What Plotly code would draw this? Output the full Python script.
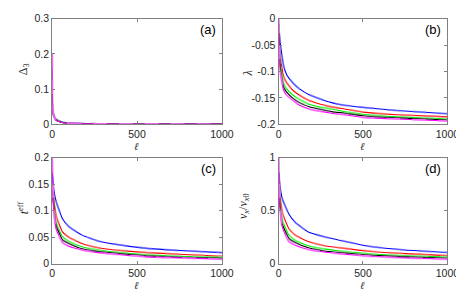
import plotly.graph_objects as go

# ---------------- data ----------------
series_names = ["blue", "red", "green", "black", "magenta"]
line_colors = ["#0000ff", "#ff0000", "#00ee00", "#000000", "#ff00ff"]
light_colors = ["rgba(120,120,255,0.7)", "rgba(255,120,120,0.7)", "rgba(120,255,120,0.7)",
                "rgba(110,110,110,0.5)", "rgba(255,120,255,0.75)"]

# (a) Delta_3
ell_a = [1, 3, 8, 23, 61, 99, 176, 271, 500, 1000]
delta_blue = [0.040, 0.035, 0.026, 0.014, 0.006, 0.004, 0.002, 0.001, 0.0005, 0.0002]
delta_red = [0.060, 0.045, 0.028, 0.013, 0.005, 0.003, 0.0015, 0.001, 0.0005, 0.0002]
delta_green = [0.085, 0.050, 0.030, 0.013, 0.005, 0.003, 0.0015, 0.001, 0.0005, 0.0002]
delta_black = [0.050, 0.040, 0.027, 0.012, 0.005, 0.003, 0.0015, 0.001, 0.0005, 0.0002]
delta_magenta = [0.200, 0.060, 0.030, 0.012, 0.005, 0.003, 0.0015, 0.001, 0.0005, 0.0002]

# (b) lambda
ell_b = [1, 10, 29, 48, 86, 124, 181, 238, 314, 390, 500, 700, 1000]
lam_blue = [-0.02, -0.045, -0.088, -0.106, -0.122, -0.133, -0.144, -0.151, -0.159, -0.164, -0.168, -0.174, -0.180]
lam_red = [-0.01, -0.070, -0.109, -0.121, -0.136, -0.145, -0.155, -0.161, -0.167, -0.171, -0.177, -0.182, -0.186]
lam_green = [-0.01, -0.082, -0.121, -0.133, -0.145, -0.153, -0.162, -0.167, -0.171, -0.176, -0.181, -0.186, -0.190]
lam_black = [-0.01, -0.091, -0.129, -0.139, -0.151, -0.159, -0.167, -0.171, -0.176, -0.179, -0.184, -0.188, -0.192]
lam_magenta = [0.0, -0.100, -0.135, -0.145, -0.155, -0.164, -0.171, -0.175, -0.179, -0.182, -0.187, -0.190, -0.194]

# (c) t^eff
ell_c = [1, 8, 23, 61, 99, 176, 271, 366, 557, 748, 1000]
teff_blue = [0.170, 0.145, 0.118, 0.085, 0.070, 0.054, 0.043, 0.037, 0.029, 0.025, 0.021]
teff_red = [0.150, 0.130, 0.091, 0.060, 0.050, 0.038, 0.030, 0.026, 0.021, 0.018, 0.014]
teff_green = [0.140, 0.118, 0.079, 0.051, 0.042, 0.032, 0.026, 0.022, 0.017, 0.014, 0.012]
teff_black = [0.140, 0.112, 0.073, 0.045, 0.038, 0.028, 0.023, 0.020, 0.015, 0.012, 0.010]
teff_magenta = [0.200, 0.108, 0.066, 0.040, 0.033, 0.026, 0.021, 0.018, 0.013, 0.011, 0.0085]

# (d) v_x / v_x0
ell_d = [1, 8, 23, 61, 99, 176, 271, 366, 557, 748, 1000]
v_blue = [0.86, 0.74, 0.61, 0.47, 0.39, 0.30, 0.255, 0.22, 0.16, 0.13, 0.106]
v_red = [0.80, 0.66, 0.48, 0.33, 0.27, 0.21, 0.17, 0.15, 0.115, 0.095, 0.076]
v_green = [0.75, 0.59, 0.41, 0.27, 0.22, 0.17, 0.14, 0.12, 0.092, 0.075, 0.062]
v_black = [0.72, 0.55, 0.37, 0.24, 0.20, 0.15, 0.12, 0.105, 0.080, 0.065, 0.052]
v_magenta = [1.00, 0.54, 0.34, 0.21, 0.175, 0.135, 0.11, 0.093, 0.068, 0.054, 0.042]

x_ticks = [0, 500, 1000]
x_tick_labels = ["0", "500", "1000"]
ya_ticks = [0, 0.1, 0.2, 0.3]
ya_labels = ["0", "0.1", "0.2", "0.3"]
yb_ticks = [0, -0.05, -0.1, -0.15, -0.2]
yb_labels = ["0", "-0.05", "-0.1", "-0.15", "-0.2"]
yc_ticks = [0, 0.05, 0.1, 0.15, 0.2]
yc_labels = ["0", "0.05", "0.1", "0.15", "0.2"]
yd_ticks = [0, 0.5, 1]
yd_labels = ["0", "0.5", "1"]

panels = [
    ("x", "y", ell_a, [delta_blue, delta_red, delta_green, delta_black, delta_magenta]),
    ("x2", "y2", ell_b, [lam_blue, lam_red, lam_green, lam_black, lam_magenta]),
    ("x3", "y3", ell_c, [teff_blue, teff_red, teff_green, teff_black, teff_magenta]),
    ("x4", "y4", ell_d, [v_blue, v_red, v_green, v_black, v_magenta]),
]

W, H = 464, 290

fig = go.Figure()
for xa, ya, ell, ys in panels:
    for i, yv in enumerate(ys):
        fig.add_trace(go.Scatter(x=ell, y=yv, xaxis=xa, yaxis=ya, mode="lines",
                                 line=dict(color=line_colors[i], width=1.1, shape="spline", smoothing=0.4),
                                 showlegend=False, hoverinfo="skip"))
        fig.add_trace(go.Scatter(x=ell, y=yv, xaxis=xa, yaxis=ya, mode="lines",
                                 line=dict(color=light_colors[i], width=2, dash="14px,12px",
                                           shape="spline", smoothing=0.4),
                                 showlegend=False, hoverinfo="skip"))

def px_x(p):
    return p / W

def px_y(p):
    return 1 - p / H

dom_left = [px_x(42.5), px_x(218)]
dom_right = [px_x(276.5), px_x(451)]
dom_top = [px_y(115), px_y(5)]
dom_bot = [px_y(260.5), px_y(150)]

tickfont = dict(family="Liberation Sans, Arial, sans-serif", size=10.5, color="#262626")
axis_common = dict(showline=True, linecolor="#808080", linewidth=1, mirror="ticks",
                   ticks="inside", ticklen=3, tickcolor="#808080", showgrid=False,
                   zeroline=False, tickfont=tickfont)

def xax(domain, anchor):
    return dict(domain=domain, anchor=anchor, range=[0, 1000], tickmode="array",
                tickvals=x_ticks, ticktext=x_tick_labels, **axis_common)

def yax(domain, anchor, rng, tv, tt):
    return dict(domain=domain, anchor=anchor, range=rng, tickmode="array",
                tickvals=tv, ticktext=tt, **axis_common)

fig.update_layout(
    width=W, height=H, margin=dict(l=0, r=0, t=0, b=0),
    paper_bgcolor="white", plot_bgcolor="white",
    xaxis=xax(dom_left, "y"), yaxis=yax(dom_top, "x", [0, 0.3], ya_ticks, ya_labels),
    xaxis2=xax(dom_right, "y2"), yaxis2=yax(dom_top, "x2", [-0.2, 0], yb_ticks, yb_labels),
    xaxis3=xax(dom_left, "y3"), yaxis3=yax(dom_bot, "x3", [0, 0.2], yc_ticks, yc_labels),
    xaxis4=xax(dom_right, "y4"), yaxis4=yax(dom_bot, "x4", [0, 1], yd_ticks, yd_labels),
)

serif = dict(family="Liberation Serif, Times New Roman, serif", size=12, color="#262626")
label_font = dict(family="Liberation Sans, Arial, sans-serif", size=13, color="#000000")
annots = []
# panel letters
for txt, xr, yc in [("(a)", 214, 16), ("(b)", 446, 16), ("(c)", 214, 161), ("(d)", 446, 161)]:
    annots.append(dict(text=txt, xref="paper", yref="paper", x=px_x(xr), y=px_y(yc),
                       xanchor="right", yanchor="middle", showarrow=False, font=label_font))
# x titles
for xc, yc in [(130, 138), (363, 138), (130, 283), (363, 283)]:
    annots.append(dict(text="<i>ℓ</i>", xref="paper", yref="paper", x=px_x(xc), y=px_y(yc),
                       xanchor="center", yanchor="middle", showarrow=False,
                       font=dict(family=serif["family"], size=10.5, color="#262626")))
# y titles
for txt, xc, yc in [("Δ<sub>3</sub>", 13, 58), ("<i>λ</i>", 245, 62),
                    ("<i>t</i><sup>eff</sup>", 13, 202), ("<i>v<sub>x</sub></i>/<i>v</i><sub><i>x</i>0</sub>", 240, 200)]:
    annots.append(dict(text=txt, xref="paper", yref="paper", x=px_x(xc), y=px_y(yc),
                       xanchor="center", yanchor="middle", showarrow=False, font=serif,
                       textangle=-90))
fig.update_layout(annotations=annots)

fig.write_html("out.html")
